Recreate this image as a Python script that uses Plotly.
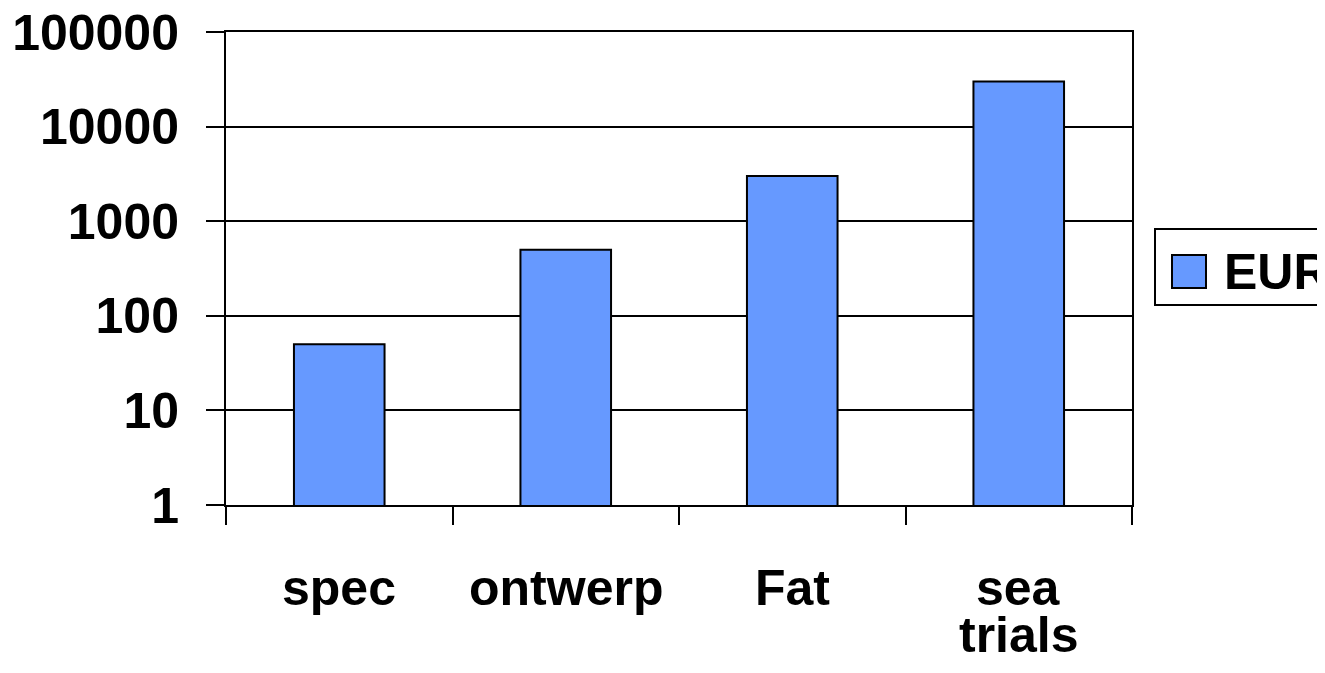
import plotly.graph_objects as go

categories = ["spec", "ontwerp", "Fat", "sea trials"]
label_lines = [["spec"], ["ontwerp"], ["Fat"], ["sea", "trials"]]
eur_values = [50, 500, 3000, 30000]
y_tickvals = [1, 10, 100, 1000, 10000, 100000]
y_ticktext = ["1", "10", "100", "1000", "10000", "100000"]
series_name = "EUR"

# page body has an 8px default margin, so the figure is offset by 8px
OFF = 8
W, H = 1325 - OFF, 673 - OFF
L, R, T, B = 226 - OFF, 193, 32 - OFF, 168
PW, PH = W - L - R, H - T - B

FONT = "Liberation Sans, Arial, sans-serif"
BAR_COLOR = "#6699FF"

def px_x(p):
    return (p - OFF - L) / PW

def px_y(p):
    return (H - B - (p - OFF)) / PH

fig = go.Figure()
fig.add_trace(go.Bar(
    x=categories, y=eur_values, name=series_name, width=0.4,
    marker=dict(color=BAR_COLOR, line=dict(color="black", width=2)),
    showlegend=False,
))

bold_font = dict(family=FONT, size=50, color="black", weight="bold")

annotations = []
for cat, lines in zip(categories, label_lines):
    for i, t in enumerate(lines):
        annotations.append(dict(
            x=cat, xref="x", y=0, yref="paper", yanchor="middle", yshift=-83 - 47 * i,
            text=t, showarrow=False, font=bold_font,
        ))

# legend (drawn manually so the swatch can match the reference size)
annotations.append(dict(
    x=px_x(1222), xref="paper", y=px_y(272), yref="paper", xanchor="left", yanchor="middle",
    text=series_name, showarrow=False, font=bold_font,
))
shapes = [
    dict(type="rect", xref="paper", yref="paper",
         x0=px_x(1155), x1=px_x(1340), y0=px_y(305), y1=px_y(229),
         line=dict(color="black", width=2), fillcolor="white", layer="below"),
    dict(type="rect", xref="paper", yref="paper",
         x0=px_x(1172), x1=px_x(1206), y0=px_y(288), y1=px_y(255),
         line=dict(color="black", width=2), fillcolor=BAR_COLOR),
]

fig.update_layout(
    width=W, height=H,
    margin=dict(l=L, r=R, t=T, b=B, pad=0, autoexpand=False),
    paper_bgcolor="white", plot_bgcolor="white",
    font=bold_font,
    bargap=0.6,
    annotations=annotations,
    shapes=shapes,
)
fig.update_xaxes(
    showticklabels=False, tickson="boundaries", ticks="outside", ticklen=18,
    tickwidth=2, tickcolor="black", showline=True, linecolor="black", linewidth=2,
    mirror=True, showgrid=False, zeroline=False, automargin=False,
)
fig.update_yaxes(
    type="log", range=[0, 5], tickmode="array", tickvals=y_tickvals, ticktext=y_ticktext,
    ticks="outside", ticklen=18, tickwidth=2, tickcolor="black",
    showline=True, linecolor="black", linewidth=2, mirror=True,
    showgrid=True, gridcolor="black", gridwidth=2, zeroline=False,
    tickfont=bold_font,
    ticklabelstandoff=17,
    ticklabeloverflow="allow",
    automargin=False,
)

fig.write_html("out.html")
